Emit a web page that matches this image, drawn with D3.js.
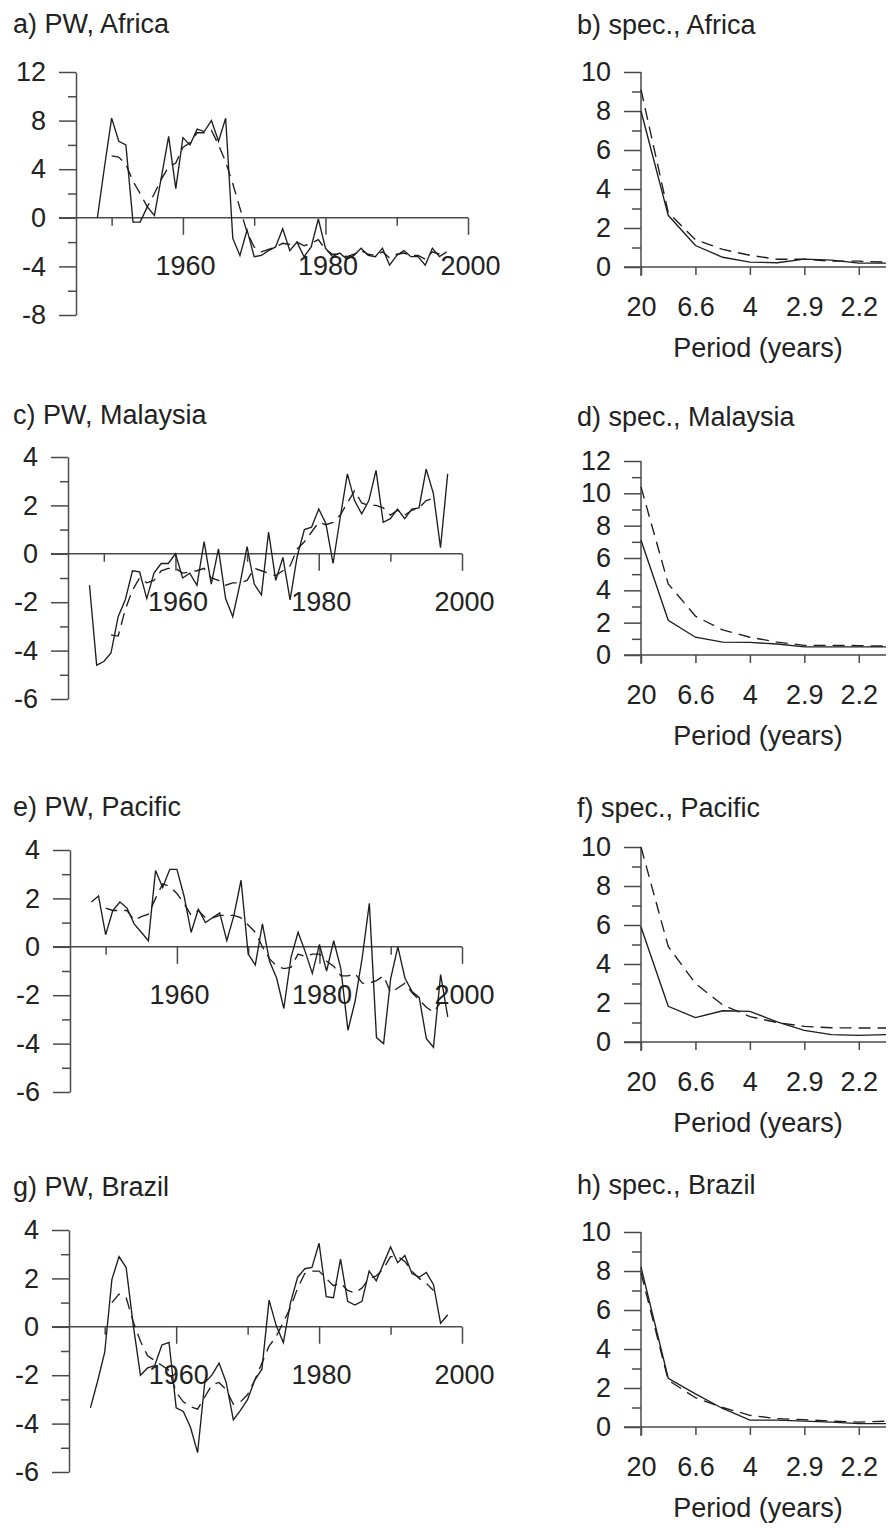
<!DOCTYPE html>
<html>
<head>
<meta charset="utf-8">
<script src="https://cdn.jsdelivr.net/npm/d3@7"></script>
<style>
  html, body { margin: 0; padding: 0; background: #fff; }
  svg text { font-family: "Liberation Sans", Arial, Helvetica, sans-serif; fill: #222; }
</style>
</head>
<body>
<svg id="chart" width="891" height="1532"></svg>
<script>
// ---- Annual PW series (solid = observed, dashed = fitted) ----
const africaObsStart = 1948;
const africaObs = [0, 4.2, 8.2, 6.3, 6.0, -0.35, -0.35, 0.9, 0.2, 3.4, 6.7, 2.4, 6.6, 6.0, 7.3, 7.1, 8.0, 6.3, 8.2,
  -1.7, -3.1, -1.0, -3.2, -3.1, -2.7, -2.4, -0.9, -2.7, -2.0, -3.2, -2.4, -0.1, -2.5, -3.2, -2.9, -3.4, -3.1,
  -2.5, -3.1, -3.2, -2.5, -3.9, -3.1, -2.7, -3.2, -3.2, -3.9, -2.5, -3.2, -2.8];
const africaFitStart = 1950;
const africaFit = [5.1, 5.0, 4.4, 3.0, 2.0, 0.9, 2.0, 3.2, 4.2, 4.5, 5.8, 6.2, 7.0, 7.0, 7.2, 6.0, 4.6, 2.8, 0.8,
  -1.2, -2.4, -2.8, -2.6, -2.4, -2.1, -2.2, -2.0, -2.3, -2.1, -1.8, -2.6, -3.0, -3.0, -3.2, -3.0, -2.7, -3.0,
  -3.1, -2.8, -3.3, -3.0, -2.9, -3.1, -3.1, -3.4, -2.8, -3.0];

const malaysiaObsStart = 1948;
const malaysiaObs = [-1.3, -4.6, -4.45, -4.1, -2.6, -1.9, -0.7, -0.75, -1.85, -0.8, -0.4, -0.4, 0.0, -1.0, -0.8,
  -1.3, 0.5, -1.25, 0.2, -1.85, -2.6, -1.25, 0.3, -1.25, -1.7, 0.9, -1.1, -0.15, -1.9, -0.1, 1.0, 1.1, 1.85,
  1.25, -0.4, 1.5, 3.3, 2.2, 1.65, 2.2, 3.45, 1.3, 1.45, 1.85, 1.45, 1.85, 1.9, 3.5, 2.5, 0.25, 3.3];
const malaysiaFitStart = 1951;
const malaysiaFit = [-3.35, -3.4, -2.3, -1.5, -1.0, -1.2, -1.1, -0.7, -0.6, -0.6, -0.8, -0.75, -0.7, -0.6, -1.0,
  -1.1, -1.3, -1.2, -1.2, -1.1, -0.6, -0.7, -0.8, -0.9, -0.7, -0.5, 0.2, 0.5, 0.9, 1.3, 1.2, 1.3, 1.6, 2.1,
  2.6, 2.1, 2.0, 2.0, 1.9, 1.6, 1.8, 1.6, 1.8, 1.9, 2.2, 2.3];

const pacificObsStart = 1948;
const pacificObs = [1.85, 2.1, 0.5, 1.5, 1.85, 1.6, 0.95, 0.6, 0.25, 3.15, 2.45, 3.2, 3.2, 2.1, 0.6, 1.55, 1.0,
  1.2, 1.4, 0.25, 1.3, 2.75, -0.3, -0.75, 0.95, -0.6, -1.3, -2.55, -0.45, 0.6, -0.2, -1.1, 0.1, -1.0, 0.25,
  -0.9, -3.45, -2.25, -0.45, 1.8, -3.75, -4.0, -1.3, 0.0, -1.3, -1.85, -2.1, -3.8, -4.15, -1.15, -2.9];
const pacificFitStart = 1950;
const pacificFit = [1.6, 1.5, 1.5, 1.5, 1.1, 1.25, 1.35, 2.0, 2.6, 2.5, 2.2, 1.8, 1.3, 1.5, 1.2, 1.2, 1.3, 1.3,
  1.3, 1.2, 0.9, 0.6, 0.0, -0.5, -0.8, -0.9, -0.85, -0.3, -0.4, -0.3, -0.3, -0.6, -0.8, -1.2, -1.2, -1.1,
  -1.5, -1.5, -1.4, -1.2, -1.9, -1.7, -1.5, -1.9, -2.2, -2.5, -2.7, -2.3];

const brazilObsStart = 1948;
const brazilObs = [-3.35, -2.25, -1.05, 1.95, 2.9, 2.45, 0.05, -2.0, -1.7, -1.6, -0.75, -0.65, -3.35, -3.5,
  -4.15, -5.2, -2.3, -2.0, -1.5, -2.3, -3.85, -3.45, -3.0, -2.2, -1.75, 1.1, 0.05, -0.65, 1.0, 2.05, 2.4,
  2.45, 3.45, 1.25, 1.2, 2.8, 1.05, 0.9, 1.05, 2.3, 1.9, 2.6, 3.3, 2.65, 2.95, 2.2, 2.05, 2.25, 1.75, 0.15, 0.5];
const brazilFitStart = 1951;
const brazilFit = [1.0, 1.35, 1.2, 0.2, -0.6, -1.2, -1.4, -1.6, -1.8, -2.7, -3.1, -3.3, -3.4, -2.9, -2.4, -2.3,
  -2.6, -3.2, -3.1, -2.8, -2.2, -1.5, -0.8, -0.4, 0.2, 0.8, 1.6, 2.2, 2.3, 2.3, 2.0, 1.7, 1.8, 1.5, 1.4, 1.6,
  2.0, 2.1, 2.4, 2.9, 2.9, 2.7, 2.3, 2.0, 1.8, 1.5];

// ---- Power spectra (frequency in cycles/year) ----
const specFreq = [0.05, 0.10, 0.15, 0.20, 0.25, 0.30, 0.35, 0.40, 0.45, 0.50];
const africaSpecObs = [8.0, 2.65, 1.1, 0.5, 0.25, 0.22, 0.4, 0.35, 0.2, 0.2];
const africaSpecFit = [9.1, 2.8, 1.4, 0.9, 0.6, 0.4, 0.4, 0.3, 0.3, 0.25];
const malaysiaSpecObs = [7.1, 2.15, 1.1, 0.8, 0.78, 0.68, 0.5, 0.5, 0.5, 0.5];
const malaysiaSpecFit = [10.4, 4.4, 2.4, 1.55, 1.1, 0.8, 0.6, 0.6, 0.58, 0.55];
const pacificSpecObs = [5.9, 1.83, 1.25, 1.6, 1.57, 1.03, 0.6, 0.38, 0.34, 0.38];
const pacificSpecFit = [10.0, 4.9, 3.0, 1.9, 1.3, 1.0, 0.8, 0.73, 0.72, 0.72];
const brazilSpecObs = [8.2, 2.5, 1.7, 0.95, 0.35, 0.35, 0.3, 0.25, 0.17, 0.17];
const brazilSpecFit = [7.9, 2.4, 1.5, 1.0, 0.6, 0.43, 0.38, 0.3, 0.25, 0.3];

// ---- Axis ticks ----
const yearTicksMajor = [1960, 1980, 2000];
const yearTicksMinor = [1950, 1970, 1990];
const freqTicks = [0.05, 0.15, 0.25, 0.35, 0.45];
const periodLabels = ["20", "6.6", "4", "2.9", "2.2"];

const svg = d3.select("#chart");
const FONT = 27;
const AXIS_COLOR = "#4a4a4a";
const LINE_COLOR = "#1e1e1e";
const LINE_WIDTH = 1.35;
const plainNumber = d => String(d); // ASCII hyphen for negatives

function toPoints(start, values) {
  return values.map((v, i) => ({ x: start + i, y: v }));
}

function styleAxis(g) {
  g.selectAll("path.domain").attr("stroke", AXIS_COLOR).attr("stroke-width", 1.5);
  g.selectAll(".tick line").attr("stroke", AXIS_COLOR).attr("stroke-width", 1.5);
  g.selectAll(".tick text").attr("font-size", FONT).attr("fill", "#222")
    .attr("font-family", '"Liberation Sans", Arial, sans-serif');
}

// Time-series panel: PW anomaly vs year
function timePanel(cfg) {
  const x = d3.scaleLinear().domain([1945, 2000]).range([cfg.left, cfg.right]);
  const y = d3.scaleLinear().domain(cfg.yDomain).range([cfg.bottom, cfg.top]);
  const g = svg.append("g");

  g.append("text").attr("x", cfg.titleX).attr("y", cfg.titleY)
    .attr("font-size", FONT).text(cfg.title);

  // y axis: major labelled ticks, minor unlabelled ticks
  const yMajor = d3.range(cfg.yDomain[0], cfg.yDomain[1] + 0.001, cfg.yStep);
  const yMinor = d3.range(cfg.yDomain[0] + cfg.yStep / 2, cfg.yDomain[1], cfg.yStep);
  const ya = g.append("g").attr("transform", `translate(${cfg.left},0)`)
    .call(d3.axisLeft(y).tickValues(yMajor).tickSize(17).tickSizeOuter(0).tickPadding(13).tickFormat(plainNumber));
  styleAxis(ya);
  const yb = g.append("g").attr("transform", `translate(${cfg.left},0)`)
    .call(d3.axisLeft(y).tickValues(yMinor).tickSize(8).tickSizeOuter(0).tickFormat(""));
  styleAxis(yb);
  yb.select("path.domain").remove();

  // x axis along zero
  const y0 = y(0);
  g.append("line").attr("x1", x(1945) - 17).attr("x2", x(2000)).attr("y1", y0).attr("y2", y0)
    .attr("stroke", AXIS_COLOR).attr("stroke-width", 1.5);
  const xa = g.append("g").attr("transform", `translate(0,${y0})`)
    .call(d3.axisBottom(x).tickValues(yearTicksMajor).tickSize(17).tickPadding(21).tickFormat(plainNumber));
  styleAxis(xa);
  xa.select("path.domain").remove();
  xa.selectAll(".tick text").attr("dx", 2);
  const xb = g.append("g").attr("transform", `translate(0,${y0})`)
    .call(d3.axisBottom(x).tickValues(yearTicksMinor).tickSize(8).tickFormat(""));
  styleAxis(xb);
  xb.select("path.domain").remove();

  const line = d3.line().x(d => x(d.x)).y(d => y(d.y));
  g.append("path").datum(toPoints(cfg.fitStart, cfg.fit)).attr("d", line)
    .attr("fill", "none").attr("stroke", LINE_COLOR).attr("stroke-width", LINE_WIDTH)
    .attr("stroke-dasharray", "12,7");
  g.append("path").datum(toPoints(cfg.obsStart, cfg.obs)).attr("d", line)
    .attr("fill", "none").attr("stroke", LINE_COLOR).attr("stroke-width", LINE_WIDTH);
}

// Spectrum panel: power vs frequency, labelled by period
function specPanel(cfg) {
  const x = d3.scaleLinear().domain([0.05, 0.5]).range([641, 886]);
  const y = d3.scaleLinear().domain([0, cfg.yMax]).range([cfg.bottom, cfg.top]);
  const g = svg.append("g");

  g.append("text").attr("x", 577).attr("y", cfg.titleY).attr("font-size", FONT).text(cfg.title);

  const yMajor = d3.range(0, cfg.yMax + 0.001, 2);
  const yMinor = d3.range(1, cfg.yMax, 2);
  const ya = g.append("g").attr("transform", `translate(${x(0.05)},0)`)
    .call(d3.axisLeft(y).tickValues(yMajor).tickSize(17).tickSizeOuter(0).tickPadding(13).tickFormat(plainNumber));
  styleAxis(ya);
  ya.select("path.domain").remove();
  const yb = g.append("g").attr("transform", `translate(${x(0.05)},0)`)
    .call(d3.axisLeft(y).tickValues(yMinor).tickSize(9).tickSizeOuter(0).tickFormat(""));
  styleAxis(yb);
  yb.select("path.domain").remove();
  g.append("line").attr("x1", x(0.05)).attr("x2", x(0.05)).attr("y1", y(cfg.yMax)).attr("y2", y(0) + 9)
    .attr("stroke", AXIS_COLOR).attr("stroke-width", 1.5);

  g.append("line").attr("x1", x(0.05) - 17).attr("x2", x(0.5)).attr("y1", y(0)).attr("y2", y(0))
    .attr("stroke", AXIS_COLOR).attr("stroke-width", 1.5);
  const xa = g.append("g").attr("transform", `translate(0,${y(0)})`)
    .call(d3.axisBottom(x).tickValues(freqTicks).tickSize(8).tickPadding(22)
      .tickFormat((d, i) => periodLabels[i]));
  styleAxis(xa);
  xa.select("path.domain").remove();

  g.append("text").attr("x", 758).attr("y", y(0) + 81).attr("dy", "0.35em")
    .attr("text-anchor", "middle").attr("font-size", FONT).text("Period (years)");

  const line = d3.line().x((d, i) => x(specFreq[i])).y(d => y(d));
  g.append("path").datum(cfg.fit).attr("d", line)
    .attr("fill", "none").attr("stroke", LINE_COLOR).attr("stroke-width", LINE_WIDTH)
    .attr("stroke-dasharray", "12,7");
  g.append("path").datum(cfg.obs).attr("d", line)
    .attr("fill", "none").attr("stroke", LINE_COLOR).attr("stroke-width", LINE_WIDTH);
}

timePanel({ title: "a) PW, Africa", titleX: 13, titleY: 33, left: 76, right: 468,
  top: 72, bottom: 315, yDomain: [-8, 12], yStep: 4,
  obsStart: africaObsStart, obs: africaObs, fitStart: africaFitStart, fit: africaFit });
timePanel({ title: "c) PW, Malaysia", titleX: 13, titleY: 424, left: 68, right: 462,
  top: 457, bottom: 699, yDomain: [-6, 4], yStep: 2,
  obsStart: malaysiaObsStart, obs: malaysiaObs, fitStart: malaysiaFitStart, fit: malaysiaFit });
timePanel({ title: "e) PW, Pacific", titleX: 13, titleY: 816, left: 70, right: 462,
  top: 850, bottom: 1092, yDomain: [-6, 4], yStep: 2,
  obsStart: pacificObsStart, obs: pacificObs, fitStart: pacificFitStart, fit: pacificFit });
timePanel({ title: "g) PW, Brazil", titleX: 13, titleY: 1196, left: 69, right: 462,
  top: 1230, bottom: 1472, yDomain: [-6, 4], yStep: 2,
  obsStart: brazilObsStart, obs: brazilObs, fitStart: brazilFitStart, fit: brazilFit });

specPanel({ title: "b) spec., Africa", titleY: 34, top: 72, bottom: 267, yMax: 10,
  obs: africaSpecObs, fit: africaSpecFit });
specPanel({ title: "d) spec., Malaysia", titleY: 426, top: 461, bottom: 655, yMax: 12,
  obs: malaysiaSpecObs, fit: malaysiaSpecFit });
specPanel({ title: "f) spec., Pacific", titleY: 817, top: 847, bottom: 1042, yMax: 10,
  obs: pacificSpecObs, fit: pacificSpecFit });
specPanel({ title: "h) spec., Brazil", titleY: 1194, top: 1232, bottom: 1427, yMax: 10,
  obs: brazilSpecObs, fit: brazilSpecFit });
</script>
</body>
</html>
